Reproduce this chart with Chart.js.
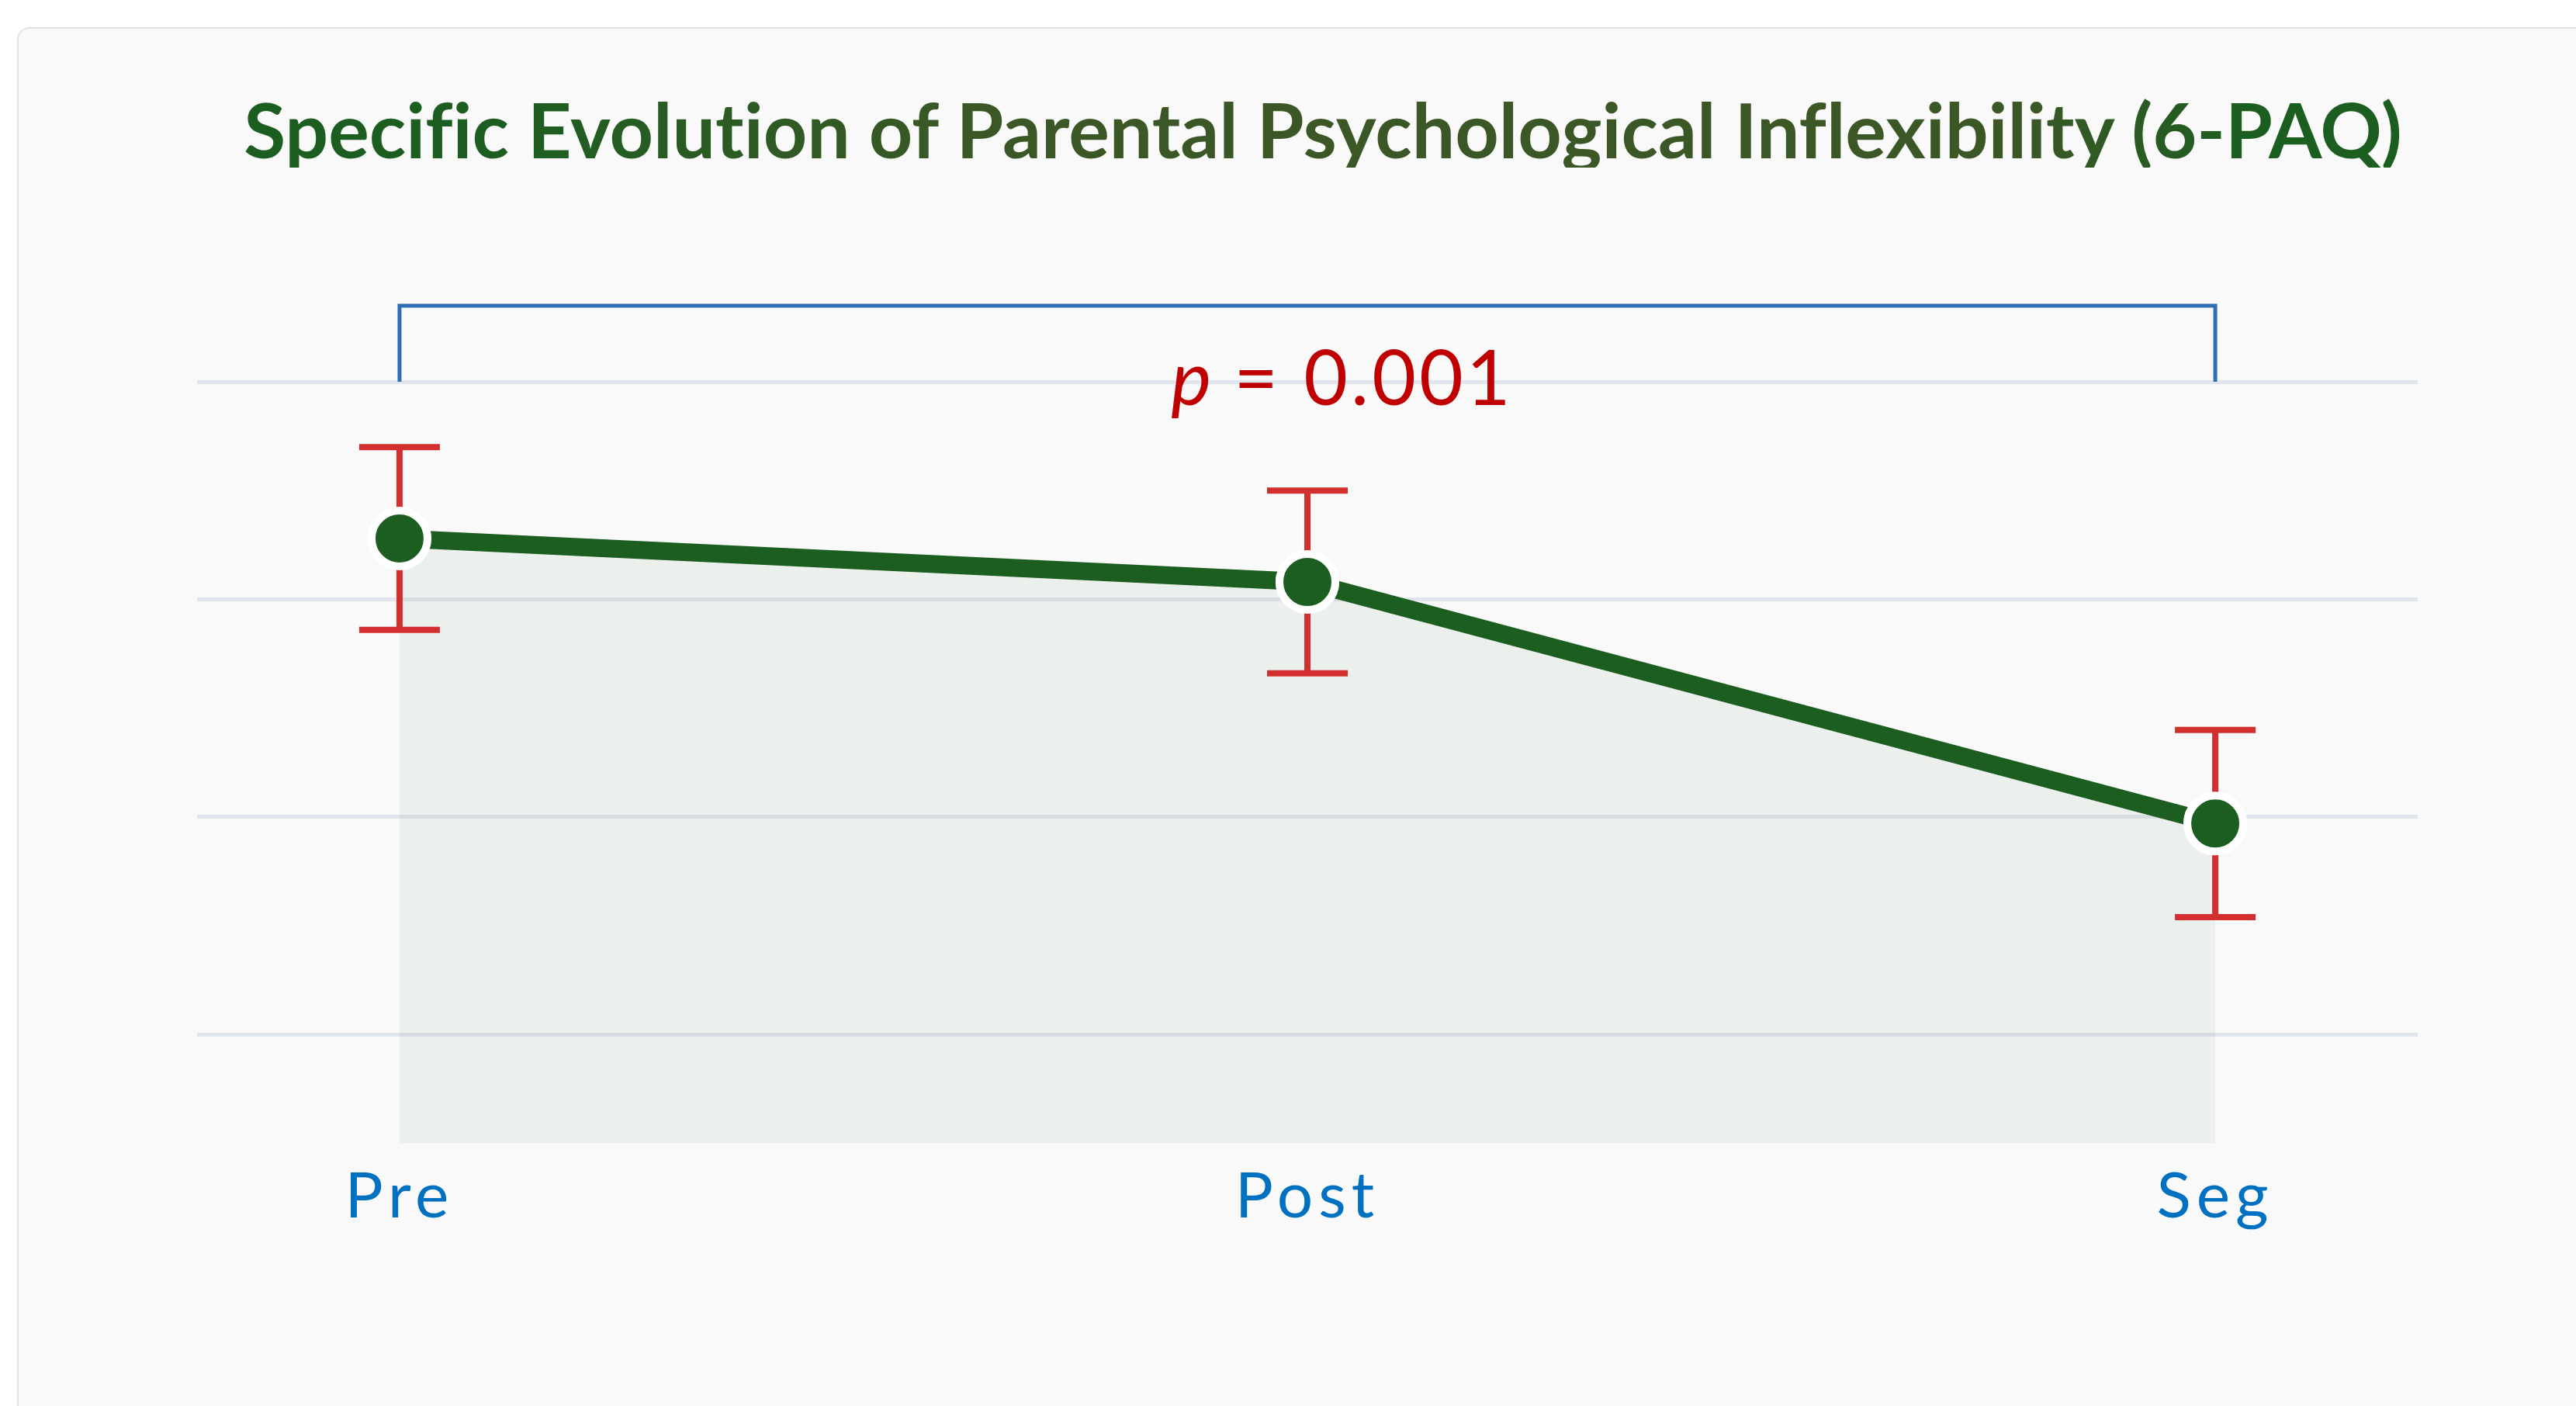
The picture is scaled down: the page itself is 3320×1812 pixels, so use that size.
<!DOCTYPE html>
<html>
<head>
<meta charset="utf-8">
<script src="https://cdn.jsdelivr.net/npm/chart.js@4.4.1/dist/chart.umd.min.js"></script>
<style>
    html, body { margin: 0; padding: 0; background: #fff; width: 3320px; height: 1812px; overflow: hidden; }
    .card {
        position: absolute; left: 22px; top: 35px; width: 3420px; height: 1900px;
        background: #f9f9f9; border: 2px solid #e2e2e2; border-radius: 16px; box-sizing: border-box;
    }
    .titulo {
        position: absolute; left: 0; top: 117px; width: 3410px; text-align: center;
    }
    .titulo span {
        display: inline-block; font: 700 98.5px Lato, sans-serif; line-height: 1;
        font-variant-ligatures: none;
        background: linear-gradient(90deg, #1b5e20 0%, #1d5e20 12%, #3c5726 35%, #3c5726 82%, #1b5e20 93%, #1b5e20 100%);
        -webkit-background-clip: text; background-clip: text; color: transparent;
    }
    #grafico { position: absolute; left: 0; top: 0; }
</style>
</head>
<body>
<div class="card"></div>
<div class="titulo"><span>Specific Evolution of Parental Psychological Inflexibility (6-PAQ)</span></div>
<canvas id="grafico" width="3320" height="1812"></canvas>

<script>
// datos (escala sin etiquetas en el eje Y)
const momentos = ["Pre", "Post", "Seg"];
const medias = [24.56, 24.16, 21.94];
const errores = [0.84, 0.84, 0.86];
const ticksY = [20, 22, 24, 26];
const valorP = "0.001";

// Barras de error y corchete con el valor p
const extrasPlugin = {
    id: "extras",
    beforeDraw(chart) {
        // espaciado de letras para las etiquetas del eje X
        chart.ctx.letterSpacing = "7px";
    },
    afterDatasetsDraw(chart) {
        const ctx = chart.ctx;
        const x = chart.scales.x;
        const y = chart.scales.y;
        const area = chart.chartArea;

        ctx.save();
        ctx.letterSpacing = "0px";

        // error bars
        ctx.strokeStyle = "#d32f2f";
        ctx.lineWidth = 8;
        medias.forEach((m, i) => {
            const px = x.getPixelForValue(i);
            const top = y.getPixelForValue(m + errores[i]);
            const bot = y.getPixelForValue(m - errores[i]);
            ctx.beginPath();
            ctx.moveTo(px, top);
            ctx.lineTo(px, bot);
            ctx.moveTo(px - 52, top);
            ctx.lineTo(px + 52, top);
            ctx.moveTo(px - 52, bot);
            ctx.lineTo(px + 52, bot);
            ctx.stroke();
        });

        // corchete
        const x0 = x.getPixelForValue(0);
        const x2 = x.getPixelForValue(momentos.length - 1);
        const yb = area.top - 98;
        ctx.strokeStyle = "#2f6db5";
        ctx.lineWidth = 5;
        ctx.beginPath();
        ctx.moveTo(x0, area.top);
        ctx.lineTo(x0, yb);
        ctx.lineTo(x2, yb);
        ctx.lineTo(x2, area.top);
        ctx.stroke();

        // texto p
        ctx.fillStyle = "#c00000";
        ctx.textBaseline = "alphabetic";
        ctx.textAlign = "left";
        const fItal = "italic 98px Lato, sans-serif";
        const fNorm = "98px Lato, sans-serif";
        const resto = " = " + valorP;
        ctx.font = fItal;
        const w1 = ctx.measureText("p").width;
        ctx.font = fNorm;
        ctx.letterSpacing = "4px";
        const w2 = ctx.measureText(resto).width;
        let tx = (x0 + x2) / 2 - (w1 + w2) / 2 + 45;
        const ty = area.top + 30;
        ctx.letterSpacing = "0px";
        ctx.font = fItal;
        ctx.fillText("p", tx, ty);
        ctx.font = fNorm;
        ctx.letterSpacing = "4px";
        ctx.fillText(resto, tx + w1, ty);
        ctx.restore();

        // puntos encima de las barras de error
        chart.getDatasetMeta(0).data.forEach(p => p.draw(ctx, area));
    }
};

const ctx = document.getElementById("grafico").getContext("2d");

new Chart(ctx, {
    type: "line",
    data: {
        datasets: [{
            label: "6-PAQ",
            data: medias.map((v, i) => ({ x: i, y: v })),
            borderColor: "#1b5e20",
            borderWidth: 23,
            backgroundColor: "rgba(27, 94, 32, 0.06)",
            fill: "start",
            tension: 0,
            pointRadius: 36,
            pointBorderWidth: 10,
            pointBackgroundColor: "#1b5e20",
            pointBorderColor: "#ffffff",
            clip: false
        }]
    },
    options: {
        responsive: false,
        animation: false,
        layout: {
            padding: { left: 254, right: 204, top: 492, bottom: 200 }
        },
        plugins: {
            legend: { display: false },
            tooltip: { enabled: false }
        },
        scales: {
            x: {
                type: "linear",
                min: -0.223,
                max: 2.223,
                afterBuildTicks: scale => {
                    scale.ticks = momentos.map((m, i) => ({ value: i }));
                },
                ticks: {
                    callback: v => momentos[v],
                    color: "#0070c0",
                    font: { family: "Lato", size: 82 },
                    padding: 20,
                    maxRotation: 0,
                    autoSkip: false
                },
                grid: { display: false, drawTicks: false },
                border: { display: false }
            },
            y: {
                min: 19,
                max: 26,
                afterBuildTicks: scale => {
                    scale.ticks = ticksY.map(v => ({ value: v }));
                },
                ticks: { display: false },
                grid: { color: "#e1e5ed", lineWidth: 5, drawTicks: false },
                border: { display: false }
            }
        }
    },
    plugins: [extrasPlugin]
});
</script>
</body>
</html>
